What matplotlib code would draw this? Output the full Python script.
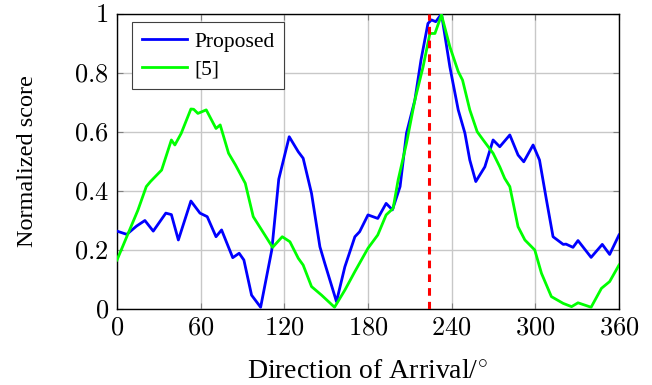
import matplotlib
matplotlib.use("Agg")
import matplotlib.pyplot as plt

prop_deg = [0, 7, 14, 20, 26, 35, 39, 44, 53, 59.5, 64.7, 71, 75, 83, 87.6, 91, 96.5, 103, 111, 116,
            123.5, 130, 133.5, 139.5, 145.5, 149, 157.4, 163.4, 170.6, 174, 180, 187, 193, 197.5,
            203, 207.6, 213.6, 218, 223, 225.5, 228.6, 232.7, 238.7, 244.7, 249.5, 253, 257.3,
            263.8, 269.7, 274.5, 281.7, 287.6, 291.7, 298.4, 303, 308, 312.7, 320, 322, 327,
            330.6, 340, 348, 353.3, 360]
prop_val = [0.264, 0.253, 0.281, 0.30, 0.264, 0.325, 0.32, 0.234, 0.366, 0.325, 0.313, 0.245, 0.268,
            0.174, 0.189, 0.166, 0.047, 0.006, 0.20, 0.44,
            0.584, 0.533, 0.511, 0.392, 0.211, 0.155, 0.025, 0.143, 0.245, 0.262, 0.319, 0.307,
            0.358, 0.336, 0.415, 0.596, 0.708, 0.844, 0.968, 0.98, 0.974, 1.0, 0.821, 0.675,
            0.596, 0.505, 0.432, 0.482, 0.573, 0.55, 0.59, 0.522, 0.499, 0.556, 0.505, 0.369,
            0.245, 0.219, 0.22, 0.209, 0.232, 0.175, 0.219, 0.185, 0.251]

ref_deg = [0, 7, 15, 21, 24, 32, 39, 41.5, 46, 53, 55, 58, 64, 71, 74, 80, 85, 92, 97.7, 106, 111.6,
           118.5, 124, 130, 133.5, 139.5, 146.7, 156, 163.4, 170.6, 180, 187, 193, 198, 201.6,
           207.6, 213.6, 219.5, 224.4, 228, 232.7, 238.7, 244.7, 247.8, 253, 258.3, 262.6,
           269.7, 274.5, 278, 281.7, 287.6, 292.5, 299.6, 304.4, 311.5, 320, 326, 330.6, 340,
           347.4, 353.3, 360]
ref_val = [0.166, 0.245, 0.335, 0.415, 0.432, 0.471, 0.573, 0.556, 0.595, 0.678, 0.677, 0.663, 0.675,
           0.612, 0.624, 0.528, 0.488, 0.426, 0.313, 0.251, 0.209,
           0.245, 0.228, 0.172, 0.149, 0.076, 0.047, 0.006, 0.064, 0.127, 0.206, 0.251, 0.319,
           0.341, 0.437, 0.562, 0.708, 0.821, 0.934, 0.934, 0.997, 0.889, 0.805, 0.776, 0.675,
           0.601, 0.573, 0.528, 0.482, 0.443, 0.415, 0.279, 0.234, 0.2, 0.121, 0.042, 0.019,
           0.008, 0.021, 0.006, 0.07, 0.093, 0.149]

true_doa = 224
xticks = [0, 60, 120, 180, 240, 300, 360]
xtick_labels = ["0", "60", "120", "180", "240", "300", "360"]
yticks = [0, 0.2, 0.4, 0.6, 0.8, 1]
ytick_labels = ["0", "0.2", "0.4", "0.6", "0.8", "1"]

plt.rcParams['font.family'] = ['Liberation Serif', 'DejaVu Serif']
plt.rcParams['mathtext.fontset'] = 'cm'

fig = plt.figure(figsize=(6.52, 3.85), dpi=100)
ax = fig.add_axes([117/652, 1-309/385, (619-117)/652, (309-14)/385])

ax.plot(prop_deg, prop_val, color=(0, 0, 1), lw=2, label='Proposed', zorder=3)
ax.plot(ref_deg, ref_val, color=(0, 1, 0), lw=2, label='[5]', zorder=3)
ax.axvline(true_doa, color='red', lw=2.2, ls=(0, (2.5, 2)), zorder=4)

ax.set_xlim(0, 360)
ax.set_ylim(0, 1)
ax.set_xticks(xticks)
ax.set_xticklabels(['$%s$' % t for t in xtick_labels])
ax.set_yticks(yticks)
ax.set_yticklabels(['$%s$' % t for t in ytick_labels])
ax.grid(True, color='#c8c8c8', lw=1)
ax.set_axisbelow(True)
ax.tick_params(direction='in', top=True, right=True, labelsize=19, length=4, color='#808080')
ax.tick_params(axis='x', pad=6)
ax.tick_params(axis='y', pad=6)
for s in ax.spines.values():
    s.set_linewidth(1.0)
ax.set_xlabel('Direction of Arrival/$^{\\circ}$', fontsize=20, labelpad=15)
ax.set_ylabel('Normalized score', fontsize=17.5, labelpad=26)

leg = ax.legend(loc='upper left', bbox_to_anchor=(0.03, 0.973), fontsize=15.5, fancybox=False,
                edgecolor='#404040', framealpha=1, handlelength=2.1, handletextpad=0.35,
                borderpad=0.45, labelspacing=0.35, borderaxespad=0)
leg.get_frame().set_linewidth(0.8)

fig.savefig('out.png', dpi=100)
